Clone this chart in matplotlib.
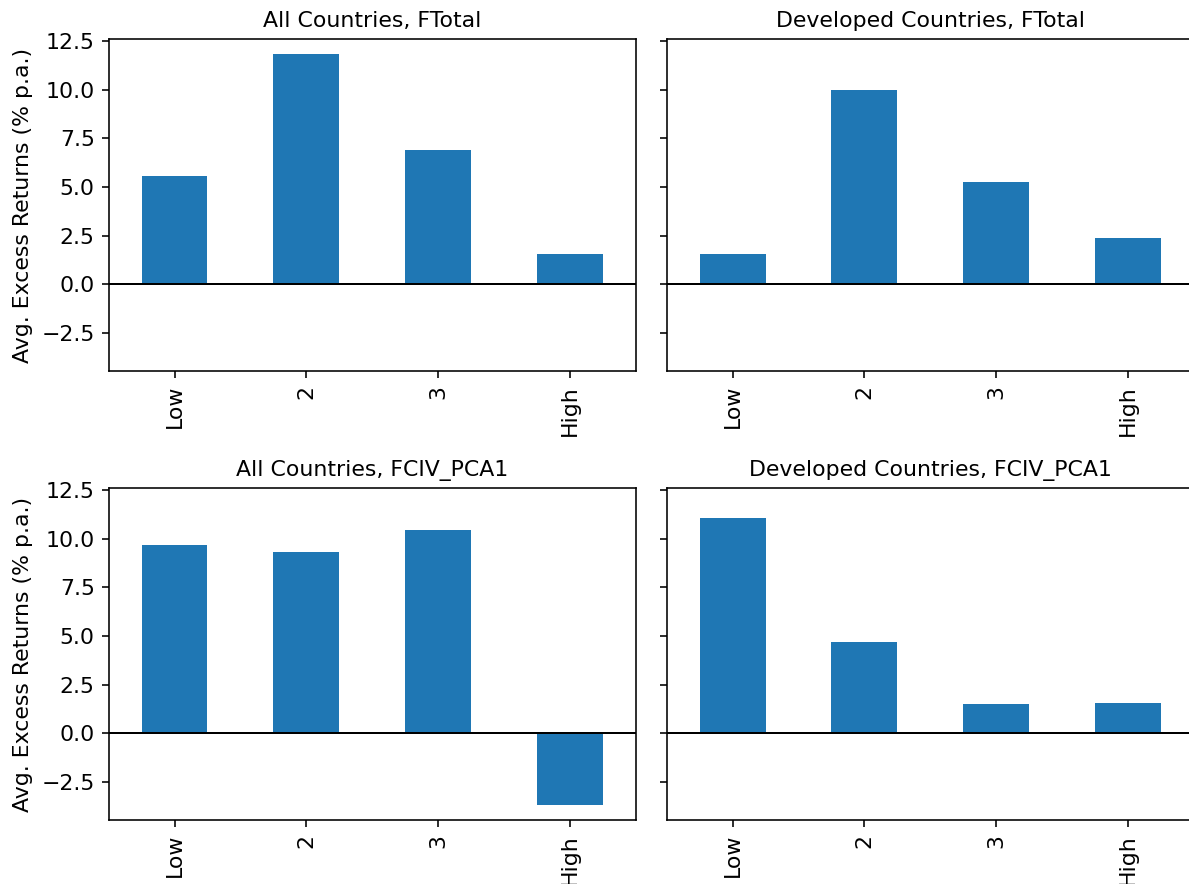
import numpy as np
import matplotlib
matplotlib.use("Agg")
import matplotlib.pyplot as plt

# Average excess returns (% p.a.) per portfolio, by sample and signal
portfolios = ["Low", "2", "3", "High"]
all_ftotal = [5.57, 11.83, 6.91, 1.57]
dev_ftotal = [1.57, 9.99, 5.27, 2.39]
all_pca1 = [9.69, 9.29, 10.42, -3.68]
dev_pca1 = [11.08, 4.69, 1.52, 1.57]

panels = [
    ("All Countries, FTotal", all_ftotal),
    ("Developed Countries, FTotal", dev_ftotal),
    ("All Countries, FCIV_PCA1", all_pca1),
    ("Developed Countries, FCIV_PCA1", dev_pca1),
]

plt.rcParams["font.size"] = 11

dpi = 144
fig, axes = plt.subplots(2, 2, figsize=(1189 / dpi, 884 / dpi), dpi=dpi, sharey=True)
fig.subplots_adjust(left=0.0914, right=1.004, top=0.9559, bottom=0.0724,
                    wspace=0.0588, hspace=0.352)

x = np.arange(len(portfolios))
for ax, (title, vals) in zip(axes.flat, panels):
    ax.bar(x, vals, width=0.5, color="#1f77b4")
    ax.axhline(0, color="black", linewidth=1.0)
    ax.set_xticks(x)
    ax.set_xticklabels(portfolios, rotation=90)
    ax.set_xlim(-0.5, len(portfolios) - 0.5)
    ax.set_title(title, fontsize=11)

for ax in axes[:, 0]:
    ax.set_ylabel("Avg. Excess Returns (% p.a.)")

fig.savefig("out.png", dpi=dpi)
